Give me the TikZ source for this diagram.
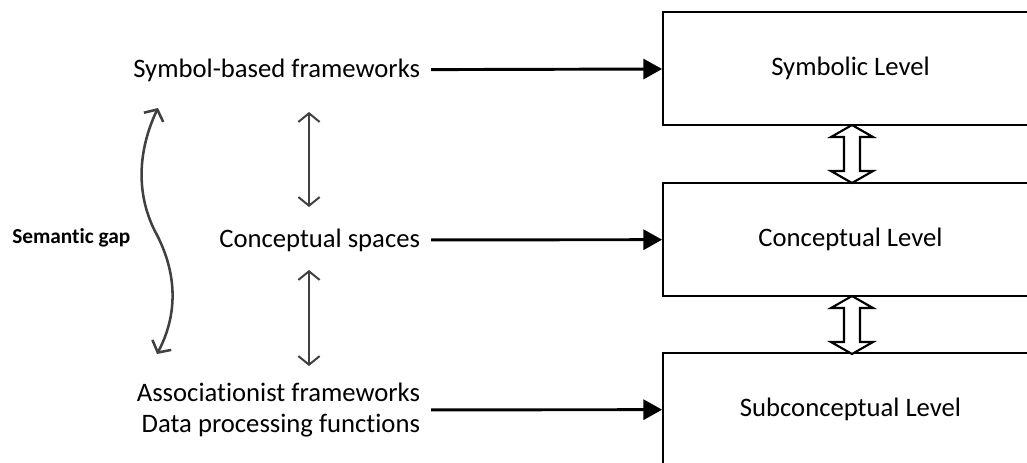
\documentclass[tikz,border=0pt]{standalone}
\usepackage{fontspec}
\setmainfont{Carlito}[Ligatures=NoCommon]
\usetikzlibrary{arrows.meta,calc}

\begin{document}
\begin{tikzpicture}[
    x=0.75pt, y=-0.75pt,
    level/.style={draw, line width=1.6pt, minimum width=281pt, minimum height=84.75pt, inner sep=0pt, font=\fontsize{20}{24}\selectfont},
    src/.style={anchor=east, inner xsep=8pt, inner ysep=0pt, align=right, font=\fontsize{20}{23.5}\selectfont},
    feed/.style={-{Triangle[length=14pt,width=15pt]}, line width=2.2pt},
    link/.style={{Straight Barb[length=6.5pt,width=16pt]}-{Straight Barb[length=6.5pt,width=16pt]}, line width=1.5pt, draw=darkgray},
    hollow/.style={draw, line width=1.6pt, fill=white, line join=miter}
  ]
    \useasboundingbox (0,0) rectangle (1027,462);
    \clip (0,0) rectangle (1027,462);

    % levels on the right
    \node[level] (symb) at (850.5,68.5)  {Symbolic Level};
    \node[level] (conc) at (850.5,239.5) {Conceptual Level};
    \node[level] (subc) at (850.5,409.5) {Subconceptual Level};

    % hollow double arrows between levels
    \foreach \t in {125,296} {
      \draw[hollow] (852,\t) -- (873,\t+12) -- (860,\t+12) -- (860,\t+46) -- (873,\t+46)
        -- (852,\t+58) -- (831,\t+46) -- (844,\t+46) -- (844,\t+12) -- (831,\t+12) -- cycle;
    }

    % frameworks on the left
    \node[src] (sym) at (431,70)  {Symbol-based frameworks};
    \node[src] (csp) at (431,240) {Conceptual spaces};
    \node[src] (asc) at (431,410) {Associationist frameworks\\Data processing functions};
    \node[anchor=west, inner sep=0pt, font=\fontsize{16}{19}\selectfont\bfseries] (gap) at (12,238) {Semantic gap};

    \draw[feed] (sym) -- (symb);
    \draw[feed] (csp) -- (conc);
    \draw[feed] (asc) -- (subc);

    % gray links
    \coordinate (l1a) at (309,112);
    \coordinate (l1b) at (309,207);
    \coordinate (l2a) at (309,270);
    \coordinate (l2b) at (309,366);
    \draw[link] (l1a) -- (l1b);
    \draw[link] (l2a) -- (l2b);

    \coordinate (w1) at (158,108);
    \coordinate (w2) at (157,235);
    \coordinate (w3) at (157,354);
    \draw[link, line width=1.9pt] (w1) .. controls (138,150) and (135,195) .. (w2)
      .. controls (180,280) and (175,320) .. (w3);
\end{tikzpicture}
\end{document}
